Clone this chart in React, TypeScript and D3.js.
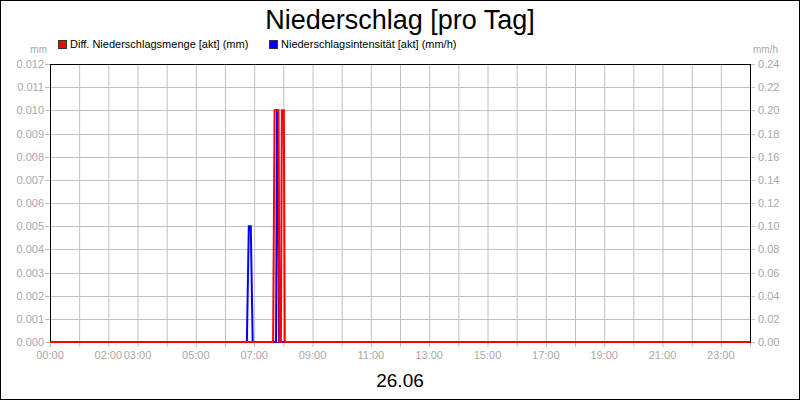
import React from 'react';
import * as d3 from 'd3';

// Diff. Niederschlagsmenge [akt] (mm), time in hh:mm
const mengeTimes = ['00:00', '07:39', '07:42', '07:50', '07:52', '07:55', '07:57', '08:01', '08:03', '24:00'];
const mengeValues = [0, 0, 0.01, 0.01, 0, 0, 0.01, 0.01, 0, 0];

// Niederschlagsintensität [akt] (mm/h)
const intensTimes = ['00:00', '06:45', '06:49', '06:53', '06:57', '07:45', '07:47', '07:49', '07:51', '24:00'];
const intensValues = [0, 0, 0.1, 0.1, 0, 0, 0.2, 0.2, 0, 0];

const leftTicks = [0, 0.001, 0.002, 0.003, 0.004, 0.005, 0.006, 0.007, 0.008, 0.009, 0.01, 0.011, 0.012];
const rightTicks = [0, 0.02, 0.04, 0.06, 0.08, 0.1, 0.12, 0.14, 0.16, 0.18, 0.2, 0.22, 0.24];
const hourTicks = d3.range(0, 25);
const labelHours = [0, 2, 3, 5, 7, 9, 11, 13, 15, 17, 19, 21, 23];

const W = 800;
const H = 400;
const M = { left: 50, right: 750, top: 64, bottom: 342 };
const FONT = '"Liberation Sans", Arial, sans-serif';
const GREY_TEXT = '#a8a8a8';
const GRID = '#c0c0c0';

const toHours = (t: string) => {
  const [h, m] = t.split(':').map(Number);
  return h + m / 60;
};

const App: React.FC = () => {
  const x = d3.scaleLinear().domain([0, 24]).range([M.left, M.right]);
  const yL = d3.scaleLinear().domain([0, 0.012]).range([M.bottom, M.top]);
  const yR = d3.scaleLinear().domain([0, 0.24]).range([M.bottom, M.top]);

  const lineL = d3
    .line<number>()
    .x((_, i) => x(toHours(mengeTimes[i])))
    .y((d) => yL(d));
  const lineR = d3
    .line<number>()
    .x((_, i) => x(toHours(intensTimes[i])))
    .y((d) => yR(d));

  const fmtHour = (h: number) => `${String(h).padStart(2, '0')}:00`;

  return (
    <div style={{ position: 'absolute', left: 0, top: 0 }}>
      <svg width={W} height={H} style={{ display: 'block', fontFamily: FONT }}>
        <rect x={0.5} y={0.5} width={W - 1} height={H - 1} fill="#fff" stroke="#000" />

        <text x={400} y={29} textAnchor="middle" fontSize={27} fill="#000">
          Niederschlag [pro Tag]
        </text>

        {/* legend */}
        <rect x={58.5} y={40.5} width={8} height={8} fill="#ff0000" stroke="#333" />
        <text x={70} y={48} fontSize={11} fill="#000">
          Diff. Niederschlagsmenge [akt] (mm)
        </text>
        <rect x={269.5} y={40.5} width={8} height={8} fill="#0000ff" stroke="#333" />
        <text x={281} y={48} fontSize={11} fill="#000">
          Niederschlagsintensität [akt] (mm/h)
        </text>

        <text x={47} y={53} textAnchor="end" fontSize={10} fill={GREY_TEXT}>
          mm
        </text>
        <text x={753} y={53} fontSize={10} fill={GREY_TEXT}>
          mm/h
        </text>

        {/* grid */}
        {hourTicks.map((h) => (
          <line key={'v' + h} x1={x(h) + 0.5} x2={x(h) + 0.5} y1={M.top} y2={M.bottom + 5} stroke={GRID} />
        ))}
        {leftTicks.map((v) => (
          <line key={'h' + v} x1={M.left - 5} x2={M.right + 5} y1={Math.round(yL(v)) + 0.5} y2={Math.round(yL(v)) + 0.5} stroke={GRID} />
        ))}

        {/* left axis labels */}
        {leftTicks.map((v) => (
          <text key={'l' + v} x={44} y={yL(v) + 4} textAnchor="end" fontSize={11} fill={GREY_TEXT}>
            {d3.format('.3f')(v)}
          </text>
        ))}
        {/* right axis labels */}
        {rightTicks.map((v) => (
          <text key={'r' + v} x={758} y={yR(v) + 4} fontSize={11} fill={GREY_TEXT}>
            {d3.format('.2f')(v)}
          </text>
        ))}
        {/* x labels */}
        {labelHours.map((h) => (
          <text key={'x' + h} x={x(h)} y={359} textAnchor="middle" fontSize={11} fill={GREY_TEXT}>
            {fmtHour(h)}
          </text>
        ))}

        {/* plot frame */}
        <rect
          x={M.left + 0.5}
          y={M.top + 0.5}
          width={M.right - M.left}
          height={M.bottom - M.top}
          fill="none"
          stroke="#000"
        />

        {/* series */}
        <path d={lineR(intensValues) || ''} fill="none" stroke="#0000ff" strokeWidth={2} />
        <path d={lineL(mengeValues) || ''} fill="none" stroke="#ff0000" strokeWidth={2} />

        <text x={400} y={387} textAnchor="middle" fontSize={19} fill="#000">
          26.06
        </text>
      </svg>
    </div>
  );
};

export default App;
